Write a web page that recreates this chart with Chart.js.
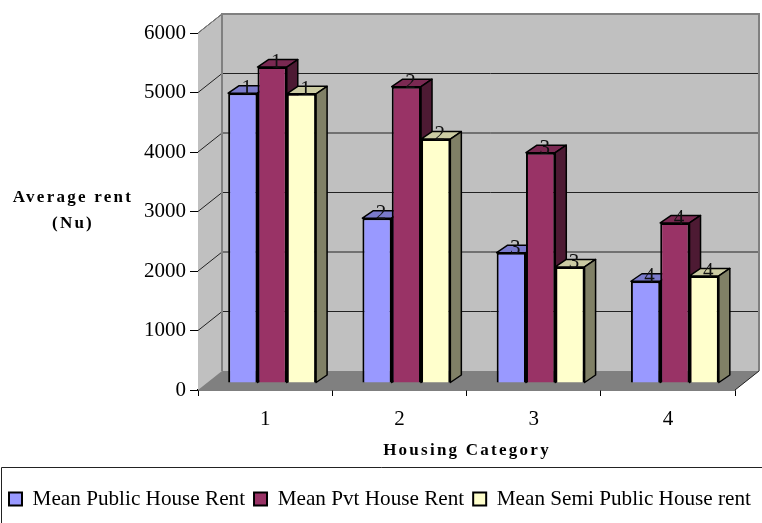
<!DOCTYPE html>
<html>
<head>
<meta charset="utf-8">
<style>
  html, body { margin: 0; padding: 0; background: #fff; }
  #chart { display: block; }
</style>
<script src="https://cdn.jsdelivr.net/npm/chart.js@4"></script>
</head>
<body>
<canvas id="chart" width="762" height="523"></canvas>
<script>
const categories = ['1', '2', '3', '4'];
const yTicks = [0, 1000, 2000, 3000, 4000, 5000, 6000];
const publicRent = [4870, 2770, 2190, 1710];
const pvtRent = [5310, 4980, 3870, 2690];
const semiPublicRent = [4860, 4100, 1950, 1800];

const FONT = '"Liberation Serif", "Times New Roman", serif';

// depth of the walls and of the bars, the library has no 3d bars
const wallX = 24, wallY = 19;
const barX = 11, barY = 7.5;
const shiftX = 7, shiftY = 7;

const shades = [
  { top: '#7a7acc', side: '#4d4d80' },
  { top: '#7a2952', side: '#4d1a33' },
  { top: '#cccca3', side: '#808066' }
];

const box3d = {
  id: 'box3d',
  beforeDatasetsDraw(chart) {
    const { ctx, chartArea: a, scales: { y } } = chart;
    ctx.save();
    // back + left wall
    ctx.fillStyle = '#c0c0c0';
    ctx.beginPath();
    ctx.moveTo(a.left, a.top);
    ctx.lineTo(a.left + wallX, a.top - wallY);
    ctx.lineTo(a.right + wallX, a.top - wallY);
    ctx.lineTo(a.right + wallX, a.bottom - wallY);
    ctx.lineTo(a.right, a.bottom);
    ctx.lineTo(a.left, a.bottom);
    ctx.closePath();
    ctx.fill();
    // floor
    ctx.fillStyle = '#808080';
    ctx.beginPath();
    ctx.moveTo(a.left, a.bottom);
    ctx.lineTo(a.left + wallX, a.bottom - wallY);
    ctx.lineTo(a.right + wallX, a.bottom - wallY);
    ctx.lineTo(a.right, a.bottom);
    ctx.closePath();
    ctx.fill();
    // grid lines
    ctx.strokeStyle = '#222';
    ctx.lineWidth = 1;
    yTicks.slice(1).forEach(v => {
      const py = y.getPixelForValue(v);
      ctx.beginPath();
      ctx.moveTo(a.left, py);
      ctx.lineTo(a.left + wallX, py - wallY);
      if (v < 6000) ctx.lineTo(a.right + wallX, py - wallY);
      ctx.stroke();
    });
    // wall edges
    ctx.strokeStyle = '#808080';
    ctx.lineWidth = 2;
    ctx.beginPath();
    ctx.moveTo(a.left + wallX, a.bottom - wallY);
    ctx.lineTo(a.left + wallX, a.top - wallY);
    ctx.lineTo(a.right + wallX, a.top - wallY);
    ctx.lineTo(a.right + wallX, a.bottom - wallY);
    ctx.stroke();
    ctx.lineWidth = 1;
    ctx.beginPath();
    ctx.moveTo(a.left, a.top);
    ctx.lineTo(a.left + wallX, a.top - wallY);
    ctx.stroke();
    ctx.strokeStyle = '#222';
    ctx.beginPath();
    ctx.moveTo(a.right, a.bottom);
    ctx.lineTo(a.right + wallX, a.bottom - wallY);
    ctx.stroke();
    ctx.restore();

    // bars sit in the middle of the floor
    ctx.save();
    ctx.translate(shiftX, -shiftY);

    // tops and sides go under all the fronts, left series first
    ctx.strokeStyle = '#000';
    ctx.lineWidth = 1.5;
    ctx.lineJoin = 'round';
    chart.data.datasets.forEach((ds, i) => {
      chart.getDatasetMeta(i).data.forEach(bar => {
        const left = bar.x - bar.width / 2, right = bar.x + bar.width / 2;
        ctx.fillStyle = shades[i].top;
        ctx.beginPath();
        ctx.moveTo(left, bar.y);
        ctx.lineTo(left + barX, bar.y - barY);
        ctx.lineTo(right + barX, bar.y - barY);
        ctx.lineTo(right, bar.y);
        ctx.closePath();
        ctx.fill();
        ctx.stroke();
        ctx.fillStyle = shades[i].side;
        ctx.beginPath();
        ctx.moveTo(right, bar.y);
        ctx.lineTo(right + barX, bar.y - barY);
        ctx.lineTo(right + barX, bar.base - barY);
        ctx.lineTo(right, bar.base);
        ctx.closePath();
        ctx.fill();
        ctx.stroke();
      });
    });
  },
  afterDatasetsDraw(chart) {
    const ctx = chart.ctx;
    // labels on the bar tops
    ctx.font = '21px ' + FONT;
    ctx.fillStyle = '#111';
    ctx.textAlign = 'center';
    ctx.textBaseline = 'alphabetic';
    chart.data.datasets.forEach((ds, i) => {
      chart.getDatasetMeta(i).data.forEach((bar, j) => {
        ctx.fillText(categories[j], bar.x + 4, bar.y + 1);
      });
    });
    ctx.restore();
  },
  afterDraw(chart) {
    const ctx = chart.ctx;
    ctx.save();
    // axis titles are letter spaced and the y one is horizontal, scale titles can't do that
    ctx.font = 'bold 17px ' + FONT;
    ctx.fillStyle = '#000';
    ctx.textAlign = 'center';
    ctx.textBaseline = 'middle';
    ctx.letterSpacing = '2.25px';
    ctx.fillText('Average rent', 73, 198);
    ctx.fillText('(Nu)', 73, 224);
    ctx.fillText('Housing Category', 467, 451);
    ctx.letterSpacing = '0px';
    // legend frame, only top and left are inside the picture
    ctx.strokeStyle = '#222';
    ctx.lineWidth = 1;
    ctx.beginPath();
    ctx.moveTo(1.5, 523);
    ctx.lineTo(1.5, 467.5);
    ctx.lineTo(762, 467.5);
    ctx.stroke();
    ctx.restore();
  }
};

new Chart(document.getElementById('chart'), {
  type: 'bar',
  data: {
    labels: categories,
    datasets: [
      { label: 'Mean Public House Rent', data: publicRent, backgroundColor: '#9999ff' },
      { label: 'Mean Pvt House Rent', data: pvtRent, backgroundColor: '#993366' },
      { label: 'Mean Semi Public House rent', data: semiPublicRent, backgroundColor: '#ffffcc' }
    ]
  },
  options: {
    responsive: false,
    animation: false,
    layout: { padding: { top: 33, right: 0, bottom: 3.4, left: 0 } },
    datasets: {
      bar: {
        borderColor: '#000',
        borderWidth: 2,
        categoryPercentage: 0.655,
        barPercentage: 1,
        clip: false
      }
    },
    scales: {
      x: {
        afterFit(scale) { scale.height = 89.4; },
        grid: { drawOnChartArea: false, color: '#000', tickLength: 6, offset: true },
        border: { color: '#000', width: 1.5 },
        ticks: { color: '#000', padding: 11, font: { family: FONT, size: 21 } }
      },
      y: {
        min: 0,
        max: 6000,
        afterFit(scale) { scale.width = 198; },
        afterBuildTicks(scale) { scale.ticks = yTicks.map(value => ({ value })); },
        grid: { drawOnChartArea: false, color: '#000', tickLength: 8 },
        border: { color: '#444', width: 1 },
        ticks: {
          color: '#000',
          padding: 4,
          font: { family: FONT, size: 21 },
          callback: value => String(value)
        }
      },
      // empty axis, keeps room for the wall depth on the right but not under the legend
      spacer: {
        position: 'right',
        afterFit(scale) { scale.width = 27; },
        grid: { display: false },
        border: { display: false },
        ticks: { display: false }
      }
    },
    plugins: {
      tooltip: { enabled: false },
      legend: {
        position: 'bottom',
        align: 'start',
        labels: {
          boxWidth: 13,
          boxHeight: 13,
          padding: 9,
          color: '#000',
          font: { family: FONT, size: 21.2 }
        }
      }
    }
  },
  plugins: [box3d]
});
</script>
</body>
</html>
